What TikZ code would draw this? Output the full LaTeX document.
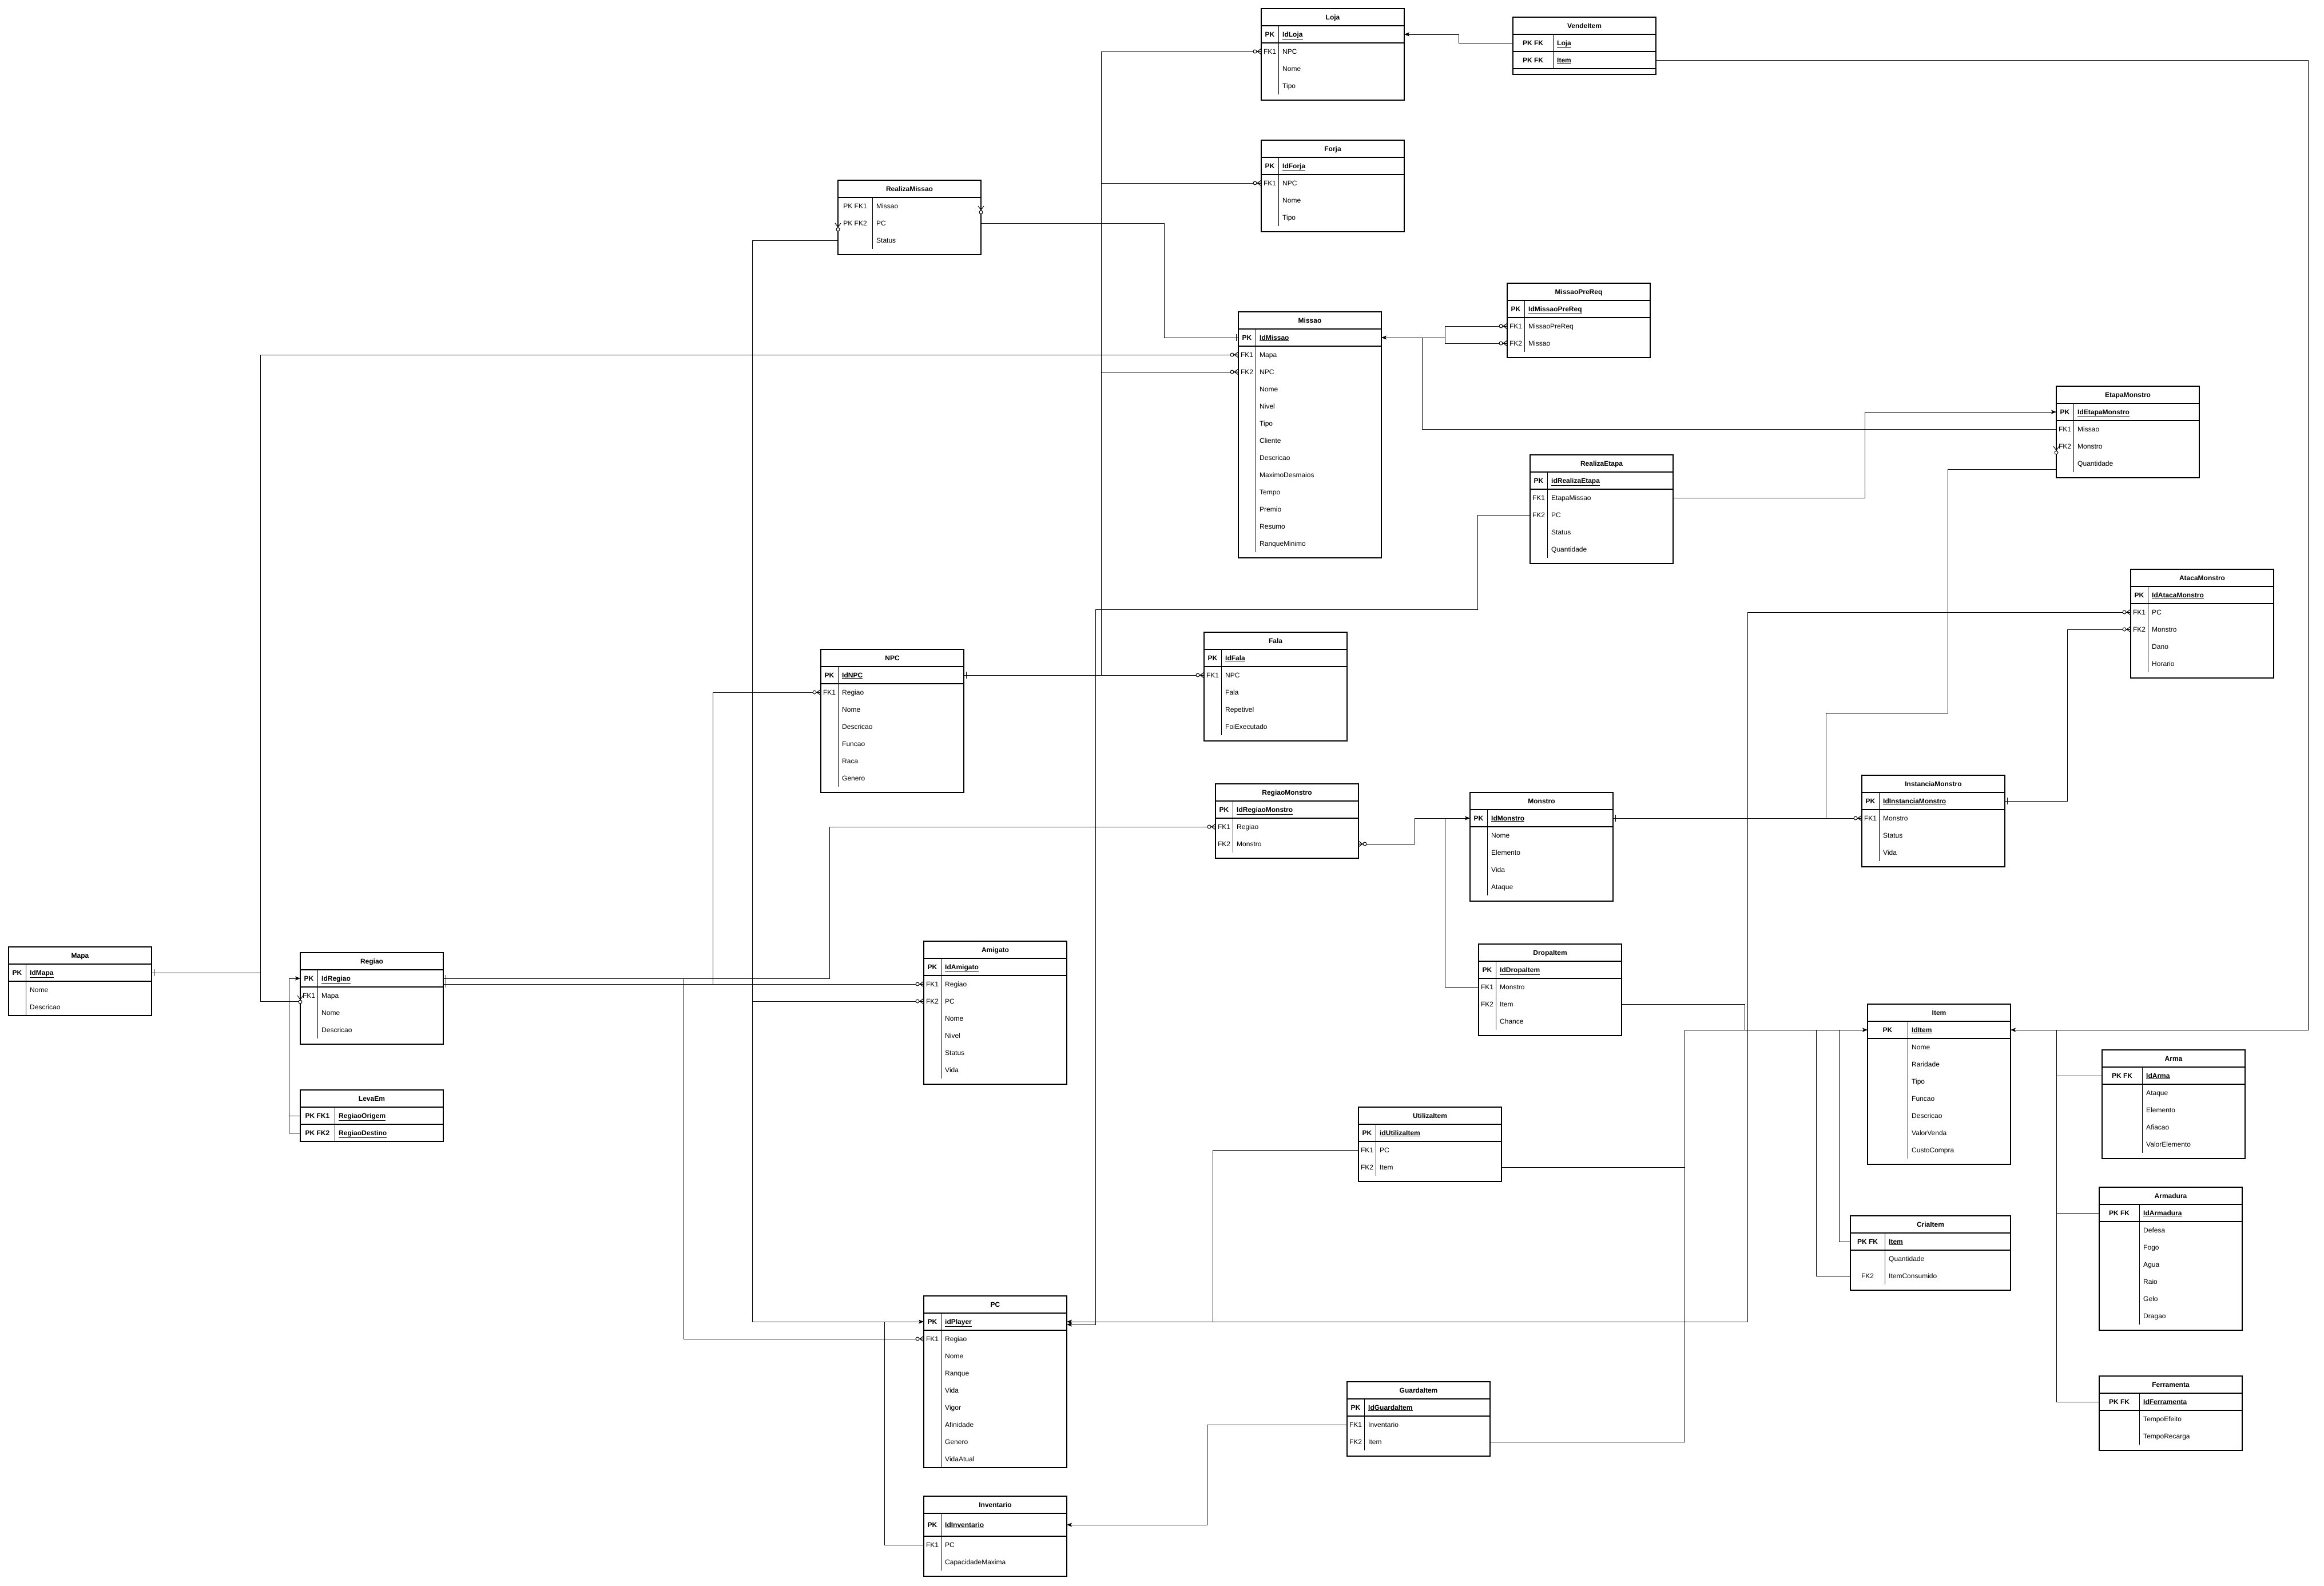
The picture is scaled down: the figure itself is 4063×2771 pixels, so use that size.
\documentclass[tikz,border=0pt]{standalone}
\usepackage{fontspec}
\setmainfont{Liberation Sans}
\usetikzlibrary{arrows.meta,calc}

\tikzset{
  conn/.style={line width=1pt},
  arr/.style={-{Stealth[length=9pt,width=7pt,inset=2pt]}},
  tbox/.style={draw, line width=1.3pt, inner sep=0pt, outer sep=0pt},
  tline/.style={line width=1.3pt},
  tdiv/.style={line width=1pt},
  txt/.style={inner sep=0pt, text height=10pt, text depth=2pt, font=\fontsize{12}{14}\selectfont},
  ttl/.style={txt, font=\fontsize{12}{14}\selectfont\bfseries},
  keyn/.style={txt},
  keyb/.style={txt, font=\fontsize{12}{14}\selectfont\bfseries},
  fldn/.style={txt, anchor=west},
  fldb/.style={txt, anchor=west, font=\fontsize{12}{14}\selectfont\bfseries},
  zm/.pic={\draw[conn] (-14,0) -- (0,0) (-7,0) -- (0,5) (-7,0) -- (0,-5);
           \draw[conn,fill=white] (-11,0) circle[radius=3pt];},
  zmv/.pic={\draw[conn] (-7,0) -- (0,0) (-7,0) -- (0,5) (-7,0) -- (0,-5);
           \draw[conn,fill=white] (-11,0) circle[radius=3pt];},
  one/.pic={\draw[conn] (-4,-6) -- (-4,6);},
}

\newcount\tc
\newcommand\ertab[6]{%
  \gdef\tn{#1}\gdef\tx{#2}\gdef\ttop{#3}\gdef\tw{#4}\gdef\tkw{#5}%
  \global\tc=0
  \pgfmathsetmacro\tmpy{#3+30}\global\let\ty\tmpy
  \node[ttl] (#1-title) at ({#2+#4/2},{#3+15}) {#6};
}
\newcommand\rowgen[5]{%
  \global\advance\tc by 1
  \pgfmathsetmacro\yc{\ty+#1/2}%
  \pgfmathsetmacro\yb{\ty+#1}%
  \pgfmathsetmacro\xk{\tx+\tkw}%
  \pgfmathsetmacro\xkc{\tx+\tkw/2}%
  \pgfmathsetmacro\xr{\tx+\tw}%
  \pgfmathsetmacro\xf{\tx+\tkw+7}%
  \node[#2] (\tn-\the\tc-key) at (\xkc,\yc) {#4};
  \node[#3] (\tn-\the\tc-fld) at (\xf,\yc) {#5};
  \coordinate (\tn-\the\tc-W) at (\tx,\yc);
  \coordinate (\tn-\the\tc-E) at (\xr,\yc);
  \draw[tdiv] (\xk,\ty) -- (\xk,\yb);
  \global\let\ty\yb
}
\newcommand\pkr[3][30]{\rowgen{#1}{keyb}{fldb}{#2}{\underline{#3}}\draw[tline] (\tx,\ty) -- (\xr,\ty);}
\newcommand\atr[2]{\rowgen{30}{keyn}{fldn}{#1}{#2}}
\newcommand\tabend[1]{%
  \pgfmathsetmacro\yb{\ty+#1}%
  \pgfmathsetmacro\hh{\yb-\ttop}%
  \node[tbox, anchor=north west, minimum width=\tw pt, minimum height=\hh pt] (\tn) at (\tx,\ttop) {};
  \draw[tline] (\tx,{\ttop+30}) -- ({\tx+\tw},{\ttop+30});
}

\begin{document}
\begin{tikzpicture}[x=1pt,y=-1pt]
\fill[white] (0,0) rectangle (4063,2771);
\useasboundingbox (0,0) rectangle (4063,2771);

% ---------- tables ----------
\ertab{loja}{2205}{15}{250}{30}{Loja}
\pkr{PK}{IdLoja} \atr{FK1}{NPC} \atr{}{Nome} \atr{}{Tipo} \tabend{10}

\ertab{vende}{2645}{30}{250}{70}{VendeItem}
\pkr{PK FK}{Loja} \pkr{PK FK}{Item} \tabend{10}

\ertab{forja}{2205}{245}{250}{30}{Forja}
\pkr{PK}{IdForja} \atr{FK1}{NPC} \atr{}{Nome} \atr{}{Tipo} \tabend{10}

\ertab{rmis}{1465}{315}{250}{60}{RealizaMissao}
\atr{PK FK1}{Missao} \atr{PK FK2}{PC} \atr{}{Status} \tabend{10}

\ertab{missao}{2165}{545}{250}{30}{Missao}
\pkr{PK}{IdMissao} \atr{FK1}{Mapa} \atr{FK2}{NPC} \atr{}{Nome} \atr{}{Nivel}
\atr{}{Tipo} \atr{}{Cliente} \atr{}{Descricao} \atr{}{MaximoDesmaios} \atr{}{Tempo}
\atr{}{Premio} \atr{}{Resumo} \atr{}{RanqueMinimo} \tabend{10}

\ertab{mpre}{2635}{495}{250}{30}{MissaoPreReq}
\pkr{PK}{IdMissaoPreReq} \atr{FK1}{MissaoPreReq} \atr{FK2}{Missao} \tabend{10}

\ertab{etapa}{3595}{675}{250}{30}{EtapaMonstro}
\pkr{PK}{IdEtapaMonstro} \atr{FK1}{Missao} \atr{FK2}{Monstro} \atr{}{Quantidade} \tabend{10}

\ertab{retapa}{2675}{795}{250}{30}{RealizaEtapa}
\pkr{PK}{idRealizaEtapa} \atr{FK1}{EtapaMissao} \atr{FK2}{PC} \atr{}{Status} \atr{}{Quantidade} \tabend{10}

\ertab{ataca}{3725}{995}{250}{30}{AtacaMonstro}
\pkr{PK}{IdAtacaMonstro} \atr{FK1}{PC} \atr{FK2}{Monstro} \atr{}{Dano} \atr{}{Horario} \tabend{10}

\ertab{npc}{1435}{1135}{250}{30}{NPC}
\pkr{PK}{IdNPC} \atr{FK1}{Regiao} \atr{}{Nome} \atr{}{Descricao} \atr{}{Funcao} \atr{}{Raca} \atr{}{Genero} \tabend{10}

\ertab{fala}{2105}{1105}{250}{30}{Fala}
\pkr{PK}{IdFala} \atr{FK1}{NPC} \atr{}{Fala} \atr{}{Repetivel} \atr{}{FoiExecutado} \tabend{10}

\ertab{rmon}{2125}{1370}{250}{30}{RegiaoMonstro}
\pkr{PK}{IdRegiaoMonstro} \atr{FK1}{Regiao} \atr{FK2}{Monstro} \tabend{10}

\ertab{monstro}{2570}{1385}{250}{30}{Monstro}
\pkr{PK}{IdMonstro} \atr{}{Nome} \atr{}{Elemento} \atr{}{Vida} \atr{}{Ataque} \tabend{10}

\ertab{inst}{3255}{1355}{250}{30}{InstanciaMonstro}
\pkr{PK}{IdInstanciaMonstro} \atr{FK1}{Monstro} \atr{}{Status} \atr{}{Vida} \tabend{10}

\ertab{mapa}{15}{1655}{250}{30}{Mapa}
\pkr{PK}{IdMapa} \atr{}{Nome} \atr{}{Descricao} \tabend{0}

\ertab{regiao}{525}{1665}{250}{30}{Regiao}
\pkr{PK}{IdRegiao} \atr{FK1}{Mapa} \atr{}{Nome} \atr{}{Descricao} \tabend{10}

\ertab{leva}{525}{1905}{250}{60}{LevaEm}
\pkr{PK FK1}{RegiaoOrigem} \pkr{PK FK2}{RegiaoDestino} \tabend{0}

\ertab{amigato}{1615}{1645}{250}{30}{Amigato}
\pkr{PK}{IdAmigato} \atr{FK1}{Regiao} \atr{FK2}{PC} \atr{}{Nome} \atr{}{Nivel} \atr{}{Status} \atr{}{Vida} \tabend{10}

\ertab{dropa}{2585}{1650}{250}{30}{DropaItem}
\pkr{PK}{IdDropaItem} \atr{FK1}{Monstro} \atr{FK2}{Item} \atr{}{Chance} \tabend{10}

\ertab{item}{3265}{1755}{250}{70}{Item}
\pkr{PK}{IdItem} \atr{}{Nome} \atr{}{Raridade} \atr{}{Tipo} \atr{}{Funcao} \atr{}{Descricao}
\atr{}{ValorVenda} \atr{}{CustoCompra} \tabend{10}

\ertab{arma}{3675}{1835}{250}{70}{Arma}
\pkr{PK FK}{IdArma} \atr{}{Ataque} \atr{}{Elemento} \atr{}{Afiacao} \atr{}{ValorElemento} \tabend{10}

\ertab{armadura}{3670}{2075}{250}{70}{Armadura}
\pkr{PK FK}{IdArmadura} \atr{}{Defesa} \atr{}{Fogo} \atr{}{Agua} \atr{}{Raio} \atr{}{Gelo} \atr{}{Dragao} \tabend{10}

\ertab{ferr}{3670}{2405}{250}{70}{Ferramenta}
\pkr{PK FK}{IdFerramenta} \atr{}{TempoEfeito} \atr{}{TempoRecarga} \tabend{10}

\ertab{cria}{3235}{2125}{280}{60}{CriaItem}
\pkr{PK FK}{Item} \atr{}{Quantidade} \atr{FK2}{ItemConsumido} \tabend{10}

\ertab{util}{2375}{1935}{250}{30}{UtilizaItem}
\pkr{PK}{idUtilizaItem} \atr{FK1}{PC} \atr{FK2}{Item} \tabend{10}

\ertab{guarda}{2355}{2415}{250}{30}{GuardaItem}
\pkr{PK}{IdGuardaItem} \atr{FK1}{Inventario} \atr{FK2}{Item} \tabend{10}

\ertab{pc}{1615}{2265}{250}{30}{PC}
\pkr{PK}{idPlayer} \atr{FK1}{Regiao} \atr{}{Nome} \atr{}{Ranque} \atr{}{Vida} \atr{}{Vigor}
\atr{}{Afinidade} \atr{}{Genero} \atr{}{VidaAtual} \tabend{0}

\ertab{inv}{1615}{2615}{250}{30}{Inventario}
\pkr[40]{PK}{IdInventario} \atr{FK1}{PC} \atr{}{CapacidadeMaxima} \tabend{10}

% ---------- bend coordinates ----------
\coordinate (xVL) at (2550,0);
\coordinate (xVI) at (4035,0);
\coordinate (xNPC) at (1925,0);
\coordinate (xRM) at (2035,0);
\coordinate (xMapa) at (455,0);
\coordinate (xLeva) at (505,0);
\coordinate (xRMon) at (1450,0);
\coordinate (xNreg) at (1246,0);
\coordinate (xPreg) at (1195,0);
\coordinate (xRMis) at (1315,0);
\coordinate (xInv) at (1546,0);
\coordinate (xRE) at (2583,0);
\coordinate (yRE) at (0,1065);
\coordinate (xRE2) at (1915,0);
\coordinate (xMon) at (2473,0);
\coordinate (xDrop) at (2526,0);
\coordinate (xMPre) at (2526,0);
\coordinate (xEMis) at (2486,0);
\coordinate (xRE3) at (3260,0);
\coordinate (xEM) at (3405,0);
\coordinate (yEM) at (0,1246);
\coordinate (xEM2) at (3192,0);
\coordinate (xInst) at (3614,0);
\coordinate (xAtk) at (3055,0);
\coordinate (xItemL) at (2945,0);
\coordinate (xDropI) at (3050,0);
\coordinate (xCria1) at (3215,0);
\coordinate (xCria2) at (3175,0);
\coordinate (xArm) at (3595,0);
\coordinate (xUtil) at (2120,0);
\coordinate (xGuarda) at (2110,0);
\coordinate (rgm) at ([yshift=-10pt]regiao-2-W);
\coordinate (rg2) at ([yshift=-10pt]regiao-1-E);
\coordinate (pcE2) at ([yshift=-5pt]pc-1-E);
\coordinate (emq) at ([yshift=-10pt]etapa-4-W);

% ---------- connectors ----------
\draw[conn,arr] (vende-1-W) -- (vende-1-W -| xVL) |- (loja-1-E);
\draw[conn,arr] (vende-2-E) -- (vende-2-E -| xVI) |- (item-1-E);
\draw[conn] (ferr-1-W) -| (xArm |- item-1-E);
\draw[conn] (arma-1-W) -- (arma-1-W -| xArm);
\draw[conn] (armadura-1-W) -- (armadura-1-W -| xArm);

\draw[conn] (loja-2-W) -| (xNPC |- npc-1-E);
\draw[conn] (forja-2-W) -- (forja-2-W -| xNPC);
\draw[conn] (missao-3-W) -- (missao-3-W -| xNPC);
\draw[conn] (npc-1-E) -- (fala-2-W);

\draw[conn] (rmis-2-E) -| (xRM |- missao-1-W) -- (missao-1-W);
\draw[conn,arr] (rmis-3-W) -| (xRMis |- pc-1-W) -- (pc-1-W);
\draw[conn] (amigato-3-W) -- (amigato-3-W -| xRMis);
\draw[conn] (inv-2-W) -| (xInv |- pc-1-W);

\draw[conn] (mapa-1-E) -- (mapa-1-E -| xMapa);
\draw[conn] (missao-2-W) -| (xMapa |- rgm) -- (rgm);

\draw[conn,arr] (leva-2-W) -| (xLeva |- regiao-1-W) -- (regiao-1-W);
\draw[conn] (leva-1-W) -- (leva-1-W -| xLeva);

\draw[conn] (regiao-1-E) -| (xRMon |- rmon-2-W) -- (rmon-2-W);
\draw[conn] (rg2) -- (amigato-2-W);
\draw[conn] (npc-2-W) -| (xNreg |- rg2);
\draw[conn] (pc-2-W) -| (xPreg |- regiao-1-E);

\draw[conn,arr] (retapa-3-W) -| (xRE |- yRE) -| (xRE2 |- pcE2) -- (pcE2);
\draw[conn,arr] (ataca-2-W) -| (xAtk |- pc-1-E) -- (pc-1-E);
\draw[conn] (util-2-W) -| (xUtil |- pc-1-E);

\draw[conn,arr] (guarda-2-W) -| (xGuarda |- inv-1-E) -- (inv-1-E);

\draw[conn,arr] (guarda-3-E) -| (xItemL |- item-1-W) -- (item-1-W);
\draw[conn] (util-3-E) -- (util-3-E -| xItemL);
\draw[conn] (dropa-3-E) -| (xDropI |- item-1-W);
\draw[conn] (cria-1-W) -| (xCria1 |- item-1-W);
\draw[conn] (cria-3-W) -| (xCria2 |- item-1-W);

\draw[conn,arr] (rmon-3-E) -| (xMon |- monstro-1-W) -- (monstro-1-W);
\draw[conn] (dropa-2-W) -| (xDrop |- monstro-1-W);
\draw[conn] (monstro-1-E) -- (inst-2-W);
\draw[conn] (emq) -| (xEM |- yEM) -| (xEM2 |- inst-2-W);

\draw[conn] (inst-1-E) -| (xInst |- ataca-3-W) -- (ataca-3-W);

\draw[conn,arr] (etapa-2-W) -| (xEMis |- missao-1-E) -- (missao-1-E);
\draw[conn] (mpre-2-W) -| (xMPre |- mpre-3-W) -- (mpre-3-W);
\draw[conn] (xMPre |- missao-1-E) -- (xEMis |- missao-1-E);

\draw[conn,arr] (retapa-2-E) -| (xRE3 |- etapa-1-W) -- (etapa-1-W);

% ---------- cardinality marks ----------
\foreach \p in {loja-2-W,forja-2-W,missao-2-W,missao-3-W,fala-2-W,npc-2-W,
  amigato-2-W,amigato-3-W,pc-2-W,rmon-2-W,inst-2-W,ataca-2-W,ataca-3-W,mpre-2-W,mpre-3-W}
  {\pic at (\p) {zm};}
\pic[rotate=180] at (rmon-3-E) {zm};
\pic[rotate=90] at (rmis-1-E) {zmv};
\pic[rotate=90] at (rmis-2-W) {zmv};
\pic[rotate=90] at (regiao-2-W) {zmv};
\pic[rotate=90] at (etapa-3-W) {zmv};

\pic at (missao-1-W) {one};
\foreach \p in {mapa-1-E,npc-1-E,monstro-1-E,inst-1-E,regiao-1-E,rg2}
  {\pic[rotate=180] at (\p) {one};}
\end{tikzpicture}
\end{document}
